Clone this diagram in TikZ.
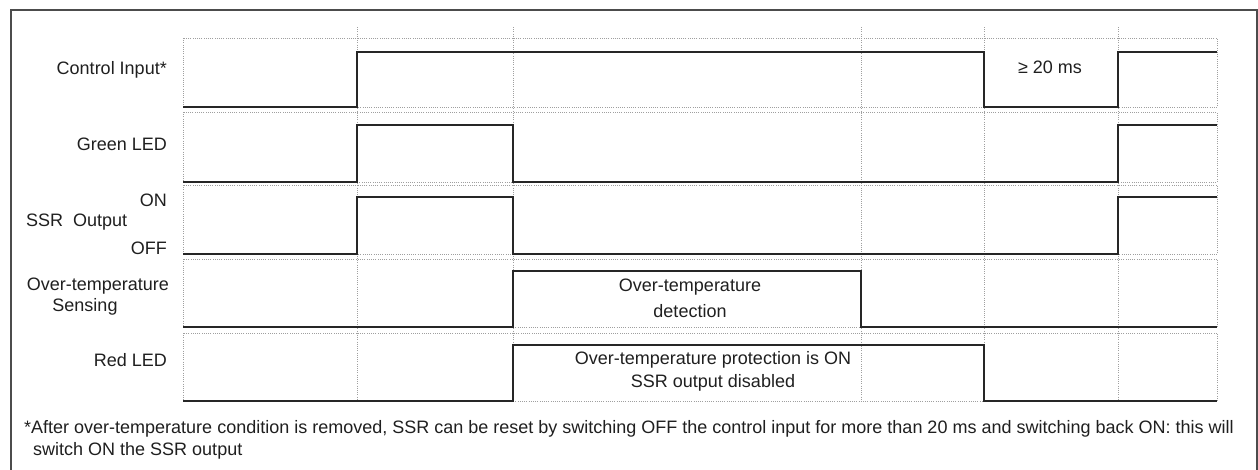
\documentclass[tikz,border=0pt]{standalone}
\usepackage{fontspec}
\setmainfont{Liberation Sans}
\begin{document}
\begin{tikzpicture}[x=1pt,y=-1pt,
  lbl/.style={inner sep=0pt, font=\fontsize{18}{21.5}\selectfont, text=black!88},
  gridln/.style={gray!75, line width=0.8pt, dash pattern=on 0.8pt off 1.4pt},
  sig/.style={black!85, line width=1.3pt},
  frameln/.style={black!70, line width=1.6pt}]
\useasboundingbox (0,0) rectangle (1258,469);
\clip (0,0) rectangle (1258,469);
% outer frame
\draw[frameln] (11,480) -- (11,10) -- (1257,10) -- (1257,480);
% row boxes
\foreach \t/\b in {38/107, 112/182, 185/254, 259/327, 333/401}{
  \draw[gridln] (183,\t) rectangle (1217,\b);
}
% vertical time grid lines
\foreach \x in {357,513,861,984,1118}{
  \draw[gridln] (\x,27) -- (\x,401);
}
% signals
\draw[sig] (183,107) -- (357,107) -- (357,52) -- (984,52) -- (984,107) -- (1118,107) -- (1118,52) -- (1217,52);
\draw[sig] (183,182) -- (357,182) -- (357,125) -- (513,125) -- (513,182) -- (1118,182) -- (1118,125) -- (1217,125);
\draw[sig] (183,254) -- (357,254) -- (357,197) -- (513,197) -- (513,254) -- (1118,254) -- (1118,197) -- (1217,197);
\draw[sig] (183,327) -- (513,327) -- (513,271) -- (861,271) -- (861,327) -- (1217,327);
\draw[sig] (183,401) -- (513,401) -- (513,345) -- (984,345) -- (984,401) -- (1217,401);
% labels
\node[lbl, anchor=east] (ci) at (167,70) {Control Input*};
\node[lbl, anchor=east] (gl) at (167,144) {Green LED};
\node[lbl, anchor=east] (on) at (167,200) {ON};
\node[lbl, anchor=west] (ssr) at (26,222) {SSR\ \ Output};
\node[lbl, anchor=east] (off) at (167,248) {OFF};
\node[lbl, anchor=east] (ot1) at (169,286) {Over-temperature};
\node[lbl] (ot2) at (85,307) {Sensing};
\node[lbl, anchor=east] (rl) at (167,360) {Red LED};
\node[lbl] (ms) at (1050,67) {≥ 20 ms};
\node[lbl] (det1) at (690,287) {Over-temperature};
\node[lbl] (det2) at (690,311) {detection};
\node[lbl] (prot1) at (713,360) {Over-temperature protection is ON};
\node[lbl] (prot2) at (713,383) {SSR output disabled};
\node[lbl, anchor=west] (fn1) at (24,429) {*After over-temperature condition is removed, SSR can be reset by switching OFF the control input for more than 20 ms and switching back ON: this will};
\node[lbl, anchor=west] (fn2) at (33,451) {switch ON the SSR output};
\end{tikzpicture}
\end{document}
